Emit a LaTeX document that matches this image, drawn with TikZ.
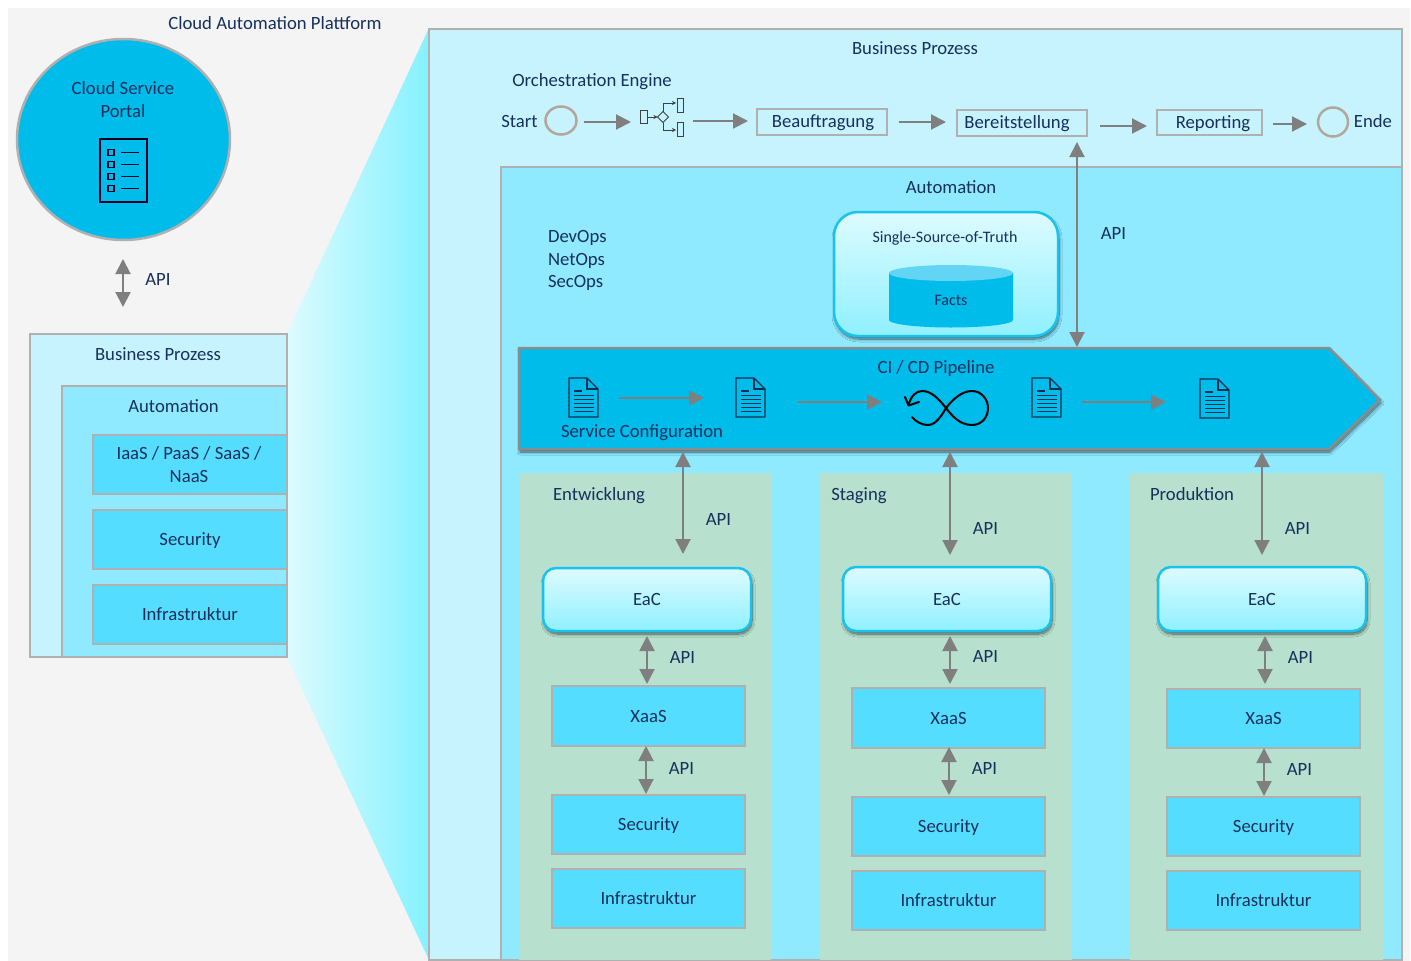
\documentclass[tikz,border=0pt]{standalone}
\usepackage{fontspec}
\setmainfont{Carlito}
\usetikzlibrary{arrows.meta,shapes.geometric,shadows.blur,calc}
\definecolor{txt}{HTML}{17305C}
\definecolor{edge}{HTML}{B0B0B0}
\definecolor{arrowgray}{HTML}{7F7F7F}
\definecolor{pagegray}{HTML}{F4F4F4}
\definecolor{paleblue}{HTML}{C7F3FF}
\definecolor{midblue}{HTML}{8FE9FF}
\definecolor{layerblue}{HTML}{55DDFF}
\definecolor{strongblue}{HTML}{00BCEB}
\definecolor{envgreen}{HTML}{B7E0CE}
\definecolor{icondark}{HTML}{0B2F4F}
\definecolor{glasstop}{HTML}{DDFBFF}
\definecolor{glassbot}{HTML}{8FF0FF}
\definecolor{funnelleft}{HTML}{DCFBFF}
\definecolor{funnelright}{HTML}{85F1FF}
\definecolor{cyltop}{HTML}{62D5F5}
\tikzset{
  every node/.style={text=txt,font=\fontsize{18.7}{23}\selectfont,inner sep=0pt,outer sep=0pt,align=center},
  labelsmall/.style={font=\fontsize{16}{20}\selectfont},
  frame/.style={draw=edge,line width=2.5pt},
  paleframe/.style={frame,fill=paleblue},
  midframe/.style={frame,fill=midblue},
  layerbox/.style={frame,fill=layerblue},
  stepbox/.style={frame,fill=paleblue},
  softshadow/.style={blur shadow={shadow xshift=1pt,shadow yshift=-3pt,shadow blur steps=12,shadow blur extra rounding=0pt,shadow blur radius=3pt,shadow opacity=60}},
  glassbox/.style={draw=strongblue!90!white,line width=2.5pt,top color=glasstop,bottom color=glassbot,softshadow},
  eacbox/.style={glassbox,rounded corners=13pt},
  eventcircle/.style={ellipse,draw=edge!80!brown,line width=2.5pt,fill=paleblue},
  flow/.style={draw=arrowgray,line width=2pt,-{Triangle[width=15pt,length=15pt]}},
  api/.style={draw=arrowgray,line width=2pt,{Triangle[width=15pt,length=15pt]}-{Triangle[width=15pt,length=15pt]}},
  iconline/.style={draw=icondark,line width=1.2pt},
  envbox/.style={fill=envgreen},
  docicon/.pic={
    \draw[iconline] (0,0) -- (18,0) -- (29,11) -- (29,39) -- (0,39) -- cycle;
    \draw[iconline] (18,0) -- (18,11) -- (29,11);
    \draw[iconline] (5,13) -- (13,13);
    \foreach \yy in {17.5,21.5,25.5,29.5,33.5}{\draw[iconline] (5,\yy) -- (25,\yy);}
  },
}
\newcommand{\bx}[7]{\node[#1,minimum width={(#5-#3)*1pt},minimum height={(#6-#4)*1pt}] (#2) at ({(#3+#5)/2},{(#4+#6)/2}) {#7};}
\newcommand{\dn}[1]{\raisebox{-1pt}[\height][\depth]{#1}}
\begin{document}
\begin{tikzpicture}[x=1pt,y=-1pt]
\useasboundingbox (0,0) rectangle (1411,961);
\fill[white] (0,0) rectangle (1411,961);
\fill[pagegray] (8,8) rectangle (1410,961);

% funnel
\shade[left color=funnelleft,right color=funnelright] (287,334) -- (429,28) -- (429,960) -- (287,657) -- cycle;

% left column
\node (platformtitle) at (275,23.5) {Cloud Automation Plattform};
\node[ellipse,minimum width=213pt,minimum height=201pt,draw=edge,line width=2.5pt,fill=strongblue] (portal) at (123.5,139.5) {};
\node (portaltext) at (123,99.5) {Cloud Service\\Portal};
\draw[draw=black!85!blue,line width=1.5pt] (100,139) rectangle (147,202);
\foreach \yy in {152.5,164.5,176.5,188.5}{
  \draw[draw=black!85!blue,line width=1.3pt] (108,\yy-3) rectangle (114,\yy+3);
  \draw[draw=black!85!blue,line width=1.3pt] (121,\yy) -- (139,\yy);
}
\node (leftbp) at (158.5,495.5) [minimum width=257pt,minimum height=323pt,paleframe] {};
\node (leftapi) at (158,279.5) {API};
\coordinate (portalgap) at (123,259);
\coordinate (leftgap) at (123,307);
\draw[api] (portalgap) -- (leftgap);
\node (leftauto) at (174.5,521.5) [minimum width=225pt,minimum height=271pt,midframe] {};
\node (leftbptext) at (158,354) {Business Prozess};
\node (leftautotext) at (173.5,406) {Automation};
\bx{layerbox}{leftiaas}{93}{435}{287}{494}{}
\node (leftiaastext) at (189,464.5) {IaaS / PaaS / SaaS /\\NaaS};
\bx{layerbox}{leftsec}{93}{510}{287}{569}{\dn{Security}}
\bx{layerbox}{leftinfra}{93}{585}{287}{644}{Infrastruktur}

% main panels
\bx{paleframe}{bp}{429}{29}{1402}{960}{}
\bx{midframe}{auto}{501}{167}{1402}{960}{}
\node (bptext) at (915,48.5) {Business Prozess};
\node (autotext) at (951,187.5) {Automation};
\node (orch) at (592,81.5) {Orchestration Engine};

% orchestration row
\node (starttext) at (519.5,121.5) {Start};
\node[eventcircle,minimum width=31pt,minimum height=28pt] (startev) at (561,120.5) {};
\coordinate (gwin) at (631,122);
\draw[flow,shorten <=7pt] (startev.east |- gwin) -- (gwin);
\begin{scope}[draw=black!75,line width=1pt]
  \draw (640,110) rectangle (647,123);
  \draw[-{Stealth[length=4pt,width=4pt]}] (647,117) -- (657.5,117);
  \draw (657.5,117) -- (663,111.5) -- (668.5,117) -- (663,122.5) -- cycle;
  \draw[-{Stealth[length=4pt,width=4pt]}] (663,111.5) -- (663,103) -- (676,103);
  \draw[-{Stealth[length=4pt,width=4pt]}] (663,122.5) -- (663,130) -- (676,130);
  \draw (677,98) rectangle (683,112);
  \draw (677,122) rectangle (683,136);
\end{scope}
\coordinate (gwout) at (693,121);
\bx{stepbox}{beauf}{757}{109}{887}{135}{\kern2pt\dn{Beauftragung}}
\draw[flow,shorten >=9pt] (gwout) -- (gwout -| beauf.west);
\bx{stepbox}{bereit}{957}{110}{1087}{136}{\dn{Bereitstellung}\kern10pt}
\bx{stepbox}{report}{1157}{110}{1262}{135}{\kern7pt\dn{Reporting}}
\node[eventcircle,minimum width=30pt,minimum height=29pt] (endev) at (1333,122) {};
\node (endtext) at (1373,121) {Ende};
\draw[flow,shorten <=12pt,shorten >=11pt] (beauf.east |- 0,122) -- (bereit.west |- 0,122);
\draw[flow,shorten <=13pt,shorten >=10pt] (bereit.east |- 0,126) -- (report.west |- 0,126);
\draw[flow,shorten <=11pt,shorten >=11pt] (report.east |- 0,124) -- (endev.west |- 0,124);

% automation contents
\node[anchor=west,align=left] (devops) at (548,237.5) {DevOps};
\node[anchor=west,align=left] (netops) at (548,260.5) {NetOps};
\node[anchor=west,align=left] (secops) at (548,282.5) {SecOps};
\bx{glassbox,rounded corners=24pt}{ssot}{834}{212}{1058}{336}{}
\node[labelsmall] (ssottext) at (945,238) {Single-Source-of-Truth};
\fill[strongblue] (889,273) -- (889,320) arc[start angle=180,end angle=0,x radius=62,y radius=7.5] -- (1013,273) -- cycle;
\fill[cyltop] (951,273) ellipse[x radius=62,y radius=8];
\node[labelsmall] (facts) at (951,300) {Facts};

% environments
\bx{envbox}{envA}{519}{473}{771}{960}{}
\bx{envbox}{envB}{820}{473}{1072}{960}{}
\bx{envbox}{envC}{1130}{473}{1383}{960}{}

% pipeline
\draw[draw=arrowgray!90!white,line width=2.5pt,fill=strongblue,softshadow]
  (519,348) -- (1329,348) -- (1380,400) -- (1329,449) -- (519,449) -- cycle;
\node (citext) at (936,368.5) {CI / CD Pipeline};
\node (svctext) at (642,432.5) {Service Configuration};
\pic at (569,378) {docicon};
\pic at (736,378) {docicon};
\pic at (1032,378) {docicon};
\pic at (1200,379) {docicon};
\coordinate (pa1) at (619,398); \coordinate (pa2) at (704,398);
\coordinate (pb1) at (798,402); \coordinate (pb2) at (882,402);
\coordinate (pc1) at (1082,402); \coordinate (pc2) at (1166,402);
\draw[flow] (pa1) -- (pa2);
\draw[flow] (pb1) -- (pb2);
\draw[flow] (pc1) -- (pc2);
\draw[black,line width=2pt,line cap=round,line join=round]
  (912,417) .. controls (916,422) and (922,425) .. (928,425)
  .. controls (936,425) and (942,415) .. (946,408)
  .. controls (953,399) and (962,391) .. (972,391)
  .. controls (982,391) and (988,400) .. (988,408)
  .. controls (988,417) and (982,425) .. (972,425)
  .. controls (960,425) and (952,416) .. (946,408)
  .. controls (938,398) and (931,391) .. (922,391)
  .. controls (916,391) and (911,396) .. (908.5,405);
\draw[black,line width=2pt,line cap=round,line join=round] (905,397) -- (908.5,405.5) -- (919,402);

% API to orchestration
\coordinate (ptop) at (1077,347);
\coordinate (bbot) at (1077,142);
\draw[api] (bbot) -- (ptop);
\node (apiTop) at (1113.5,233) {API};

% column A
\node (lblA) at (599,495.5) {Entwicklung};
\bx{eacbox}{eacA}{543}{568}{751}{631}{EaC}
\bx{layerbox}{xaasA}{552}{686}{745}{746}{XaaS}
\bx{layerbox}{secA}{552}{795}{745}{854}{\dn{Security}}
\bx{layerbox}{infA}{552}{869}{745}{928}{Infrastruktur}
\coordinate (pbotA) at (683,452); \coordinate (envtA) at (683,554);
\draw[api] (pbotA) -- (envtA);
\node (apiA0) at (718.5,519) {API};
\draw[api,shorten <=5pt,shorten >=2pt] (eacA.south) -- (eacA.south |- xaasA.north);
\node (apiA1) at (682.5,657) {API};
\draw[api,shorten >=1pt] (xaasA.south -| 646,0) -- (secA.north -| 646,0);
\node (apiA2) at (681.5,768) {API};

% column B
\node (lblB) at (859,495.5) {Staging};
\bx{eacbox}{eacB}{843}{567}{1051}{631}{EaC}
\bx{layerbox}{xaasB}{852}{688}{1045}{748}{XaaS}
\bx{layerbox}{secB}{852}{797}{1045}{856}{\dn{Security}}
\bx{layerbox}{infB}{852}{871}{1045}{930}{Infrastruktur}
\coordinate (pbotB) at (950,452); \coordinate (envtB) at (950,555);
\draw[api] (pbotB) -- (envtB);
\node (apiB0) at (985.5,528) {API};
\draw[api,shorten <=5pt,shorten >=4pt] (eacB.south -| 950,0) -- (xaasB.north -| 950,0);
\node (apiB1) at (985.5,656) {API};
\draw[api,shorten <=-1pt,shorten >=2pt] (xaasB.south -| 949,0) -- (secB.north -| 949,0);
\node (apiB2) at (984.5,768) {API};

% column C
\node (lblC) at (1192,494) {Produktion};
\bx{eacbox}{eacC}{1158}{567}{1366}{631}{EaC}
\bx{layerbox}{xaasC}{1167}{689}{1360}{748}{XaaS}
\bx{layerbox}{secC}{1167}{797}{1360}{856}{\dn{Security}}
\bx{layerbox}{infC}{1167}{871}{1360}{930}{Infrastruktur}
\coordinate (pbotC) at (1262,452); \coordinate (envtC) at (1262,555);
\draw[api] (pbotC) -- (envtC);
\node (apiC0) at (1297.5,528) {API};
\draw[api,shorten <=5pt,shorten >=5pt] (eacC.south -| 1265,0) -- (xaasC.north -| 1265,0);
\node (apiC1) at (1300.5,657) {API};
\draw[api,shorten >=1pt] (xaasC.south -| 1264,0) -- (secC.north -| 1264,0);
\node (apiC2) at (1299.5,769) {API};
\end{tikzpicture}
\end{document}
